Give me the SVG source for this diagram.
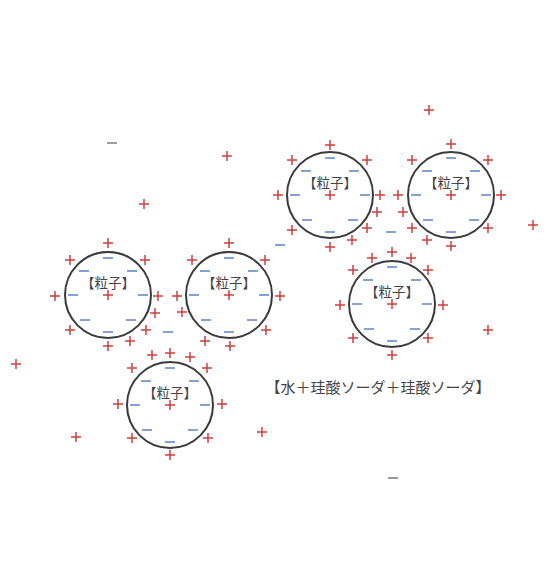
<svg xmlns="http://www.w3.org/2000/svg" xmlns:xlink="http://www.w3.org/1999/xlink" width="559" height="584" viewBox="0 0 559 584">
<style>
.ring{fill:none;stroke:#3a3a3a;stroke-width:2}
.lbl{font-family:"Noto Sans CJK JP","Noto Sans CJK SC",sans-serif;font-size:13.5px;fill:#444;text-anchor:middle;dominant-baseline:central}
.note{font-family:"Noto Sans CJK JP","Noto Sans CJK SC",sans-serif;font-size:15px;fill:#444;text-anchor:middle;dominant-baseline:central}
.pl{stroke:#c8413c;stroke-width:1.5;fill:none}
.mi{stroke:#5b82c4;stroke-width:1.5;fill:none}
.mg{stroke:#777;stroke-width:1.5;fill:none}
</style>
<defs>
<path id="p" class="pl" d="M-5 0H5M0-5V5"/>
<path id="m" class="mi" d="M-5 0H5"/>
<path id="mg" class="mg" d="M-5 0H5"/>
<g id="inner">
<circle class="ring" r="43"/>
<text class="lbl" y="-13">【粒子】</text>
<use href="#p"/>
<use href="#m" y="-37"/><use href="#m" x="-35"/><use href="#m" x="35"/><use href="#m" y="37"/>
<use href="#m" x="-24" y="-24"/><use href="#m" x="24" y="-24"/><use href="#m" x="-23" y="25"/><use href="#m" x="23" y="25"/>
</g>
</defs>
<rect width="559" height="584" fill="#fff"/>
<g id="particle1" transform="translate(330,195)">
<use href="#inner"/>
<use href="#p" y="-50"/><use href="#p" x="-38" y="-35"/><use href="#p" x="37" y="-35"/>
<use href="#p" x="-52"/><use href="#p" x="50"/>
<use href="#p" x="-38" y="35"/><use href="#p" x="37" y="33"/><use href="#p" y="52"/>
<use href="#p" x="22" y="45"/><use href="#p" x="47" y="17"/>
</g>
<g id="particle2" transform="translate(451,195)">
<use href="#inner"/>
<use href="#p" y="-51"/><use href="#p" x="-39" y="-35"/><use href="#p" x="37" y="-35"/>
<use href="#p" x="-53"/><use href="#p" x="50"/>
<use href="#p" x="-39" y="33"/><use href="#p" x="37" y="33"/><use href="#p" y="51"/>
<use href="#p" x="-24" y="45"/><use href="#p" x="-48" y="17"/>
</g>
<g id="particle3" transform="translate(108,295)">
<use href="#inner"/>
<use href="#p" y="-52"/><use href="#p" x="-38" y="-35"/><use href="#p" x="37" y="-35"/>
<use href="#p" x="-53" y="1"/><use href="#p" x="50" y="1"/>
<use href="#p" x="-38" y="35"/><use href="#p" x="38" y="35"/><use href="#p" y="51"/>
<use href="#p" x="47" y="18"/><use href="#p" x="22" y="46"/>
</g>
<g id="particle4" transform="translate(229,295)">
<use href="#inner"/>
<use href="#p" y="-52"/><use href="#p" x="-37" y="-35"/><use href="#p" x="36" y="-35"/>
<use href="#p" x="-52" y="1"/><use href="#p" x="51" y="1"/>
<use href="#p" x="37" y="35"/><use href="#p" x="1" y="51"/>
<use href="#p" x="-47" y="17"/><use href="#p" x="-24" y="46"/>
</g>
<g id="particle5" transform="translate(392,304)">
<use href="#inner"/>
<use href="#p" x="-20" y="-46"/><use href="#p" y="-52"/><use href="#p" x="19" y="-46"/>
<use href="#p" x="-39" y="-34"/><use href="#p" x="36" y="-34"/>
<use href="#p" x="-52" y="1"/><use href="#p" x="51" y="1"/>
<use href="#p" x="-39" y="34"/><use href="#p" x="36" y="34"/><use href="#p" y="51"/>
</g>
<g id="particle6" transform="translate(170,405)">
<use href="#inner"/>
<use href="#p" x="-18" y="-50"/><use href="#p" y="-52"/><use href="#p" x="20" y="-48"/>
<use href="#p" x="-38" y="-37"/><use href="#p" x="37" y="-37"/>
<use href="#p" x="-52" y="-1"/><use href="#p" x="52" y="-1"/>
<use href="#p" x="-38" y="33"/><use href="#p" x="38" y="33"/><use href="#p" y="50"/>
</g>
<g id="ions">
<use href="#p" x="227" y="156"/>
<use href="#p" x="144" y="204"/>
<use href="#p" x="429" y="110"/>
<use href="#p" x="533" y="225"/>
<use href="#p" x="16" y="364"/>
<use href="#p" x="76" y="437"/>
<use href="#p" x="262" y="432"/>
<use href="#p" x="488" y="330"/>
<use href="#mg" x="112" y="143"/>
<use href="#m" x="280" y="245"/>
<use href="#m" x="168" y="332"/>
<use href="#m" x="391" y="232"/>
<use href="#mg" x="393" y="478"/>
</g>
<text class="note" x="378" y="386">【水＋珪酸ソーダ＋珪酸ソーダ】</text>
</svg>
